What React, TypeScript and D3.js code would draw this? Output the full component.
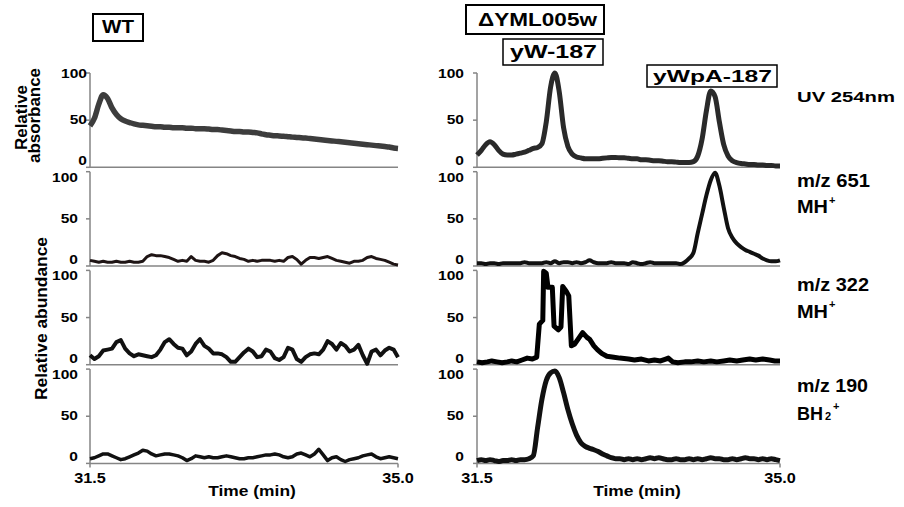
import * as d3 from "d3";

// time grid (min), 0.05 min steps from 31.5 to 35.0
const timeMin = d3.range(71).map((i) => 31.5 + i * 0.05);

// WT column
const wtUv = [
  44, 52, 67, 77, 73, 63, 56, 51.5, 49, 47.5,
  46, 45, 44.5, 44, 43.5, 43, 43, 42.5, 42.5, 42,
  42, 42, 41.5, 41.5, 41, 41, 41, 40.5, 40, 40,
  39.5, 39, 38.5, 38, 38, 37.5, 37.5, 37, 36.5, 35.5,
  34.5, 34, 33.5, 33.3, 33, 32.5, 32, 31.7, 31.3, 31,
  30.5, 30, 29.5, 29, 28.5, 28, 27.5, 27, 26.5, 26,
  25.5, 25, 24.5, 24, 23.5, 23, 22.5, 22, 21.5, 20.5,
  20,
];
const wtMz651 = [
  6, 5, 4, 5, 4, 4, 5, 4, 4, 5,
  4, 4, 5, 10, 12, 11, 11, 10, 9, 7,
  5, 6, 5, 10, 6, 5, 5, 4, 6, 11,
  14, 13, 11, 10, 8, 7, 5, 6, 5, 6,
  6, 6, 5, 6, 5, 9, 10, 7, 2, 6,
  9, 9, 8, 9, 10, 8, 6, 5, 4, 3,
  5, 5, 6, 9, 10, 8, 7, 6, 4, 2,
  1,
];
const wtMz322 = [
  10, 6, 9, 15, 16, 17, 24, 26, 17, 12,
  9, 11, 10, 9, 8, 10, 16, 24, 27, 22,
  18, 17, 10, 14, 22, 27, 20, 17, 12, 12,
  11, 8, 3, 3, 8, 13, 17, 14, 8, 9,
  16, 14, 7, 5, 8, 18, 16, 6, 3, 8,
  11, 12, 11, 16, 25, 22, 16, 23, 20, 14,
  16, 21, 10, 1, 14, 16, 10, 15, 18, 16,
  8,
];
const wtMz190 = [
  5, 6, 8, 10, 10, 8, 6, 4, 5, 7,
  9, 11, 14, 13, 10, 8, 9, 10, 10, 9,
  8, 6, 3, 5, 8, 7, 6, 7, 6, 6,
  7, 8, 7, 6, 5, 5, 6, 6, 7, 8,
  9, 9, 10, 9, 7, 6, 7, 10, 11, 9,
  7, 10, 15, 9, 3, 6, 7, 4, 2, 4,
  5, 6, 8, 9, 10, 7, 5, 6, 7, 6,
  5,
];

// ΔYML005w column
const ymlUv = [
  13, 18, 24, 27, 24, 18, 14, 13, 13, 14,
  15, 16, 18, 20, 21, 25, 48, 85, 100, 80,
  42, 22, 14, 11, 10, 9, 9, 9, 9, 9.5,
  10, 10.5, 10.5, 10, 10, 9.5, 9, 9, 8, 8,
  7.5, 7, 7, 6.5, 6, 6, 5.5, 5, 5, 5,
  6, 12, 30, 60, 81, 75, 48, 24, 12, 7,
  5, 4, 3.5, 3, 3, 2.5, 2.5, 2, 2, 1.5,
  1.5,
];
const ymlMz651 = [
  3, 3, 2, 3, 3, 2, 3, 3, 3, 3,
  3, 4, 3, 3, 3, 3, 4, 3, 5, 3,
  4, 4, 3, 4, 3, 4, 6, 4, 3, 3,
  3, 4, 3, 3, 3, 2, 4, 3, 2, 3,
  4, 3, 3, 3, 3, 3, 3, 2, 4, 8,
  14, 35, 55, 75, 91, 99, 85, 62, 40, 30,
  24, 20, 17, 15, 13, 11, 8, 6, 5, 5,
  6,
];
const ymlMz322Time = [
  31.5, 31.56, 31.62, 31.67, 31.73, 31.79, 31.85, 31.9, 31.96, 32.02,
  32.08, 32.14, 32.19, 32.22, 32.26, 32.27, 32.3, 32.32, 32.37, 32.39,
  32.44, 32.47, 32.49, 32.53, 32.56, 32.59, 32.63, 32.69, 32.72, 32.77,
  32.8, 32.85, 32.89, 32.94, 33.0, 33.08, 33.15, 33.25, 33.32, 33.4,
  33.48, 33.55, 33.62, 33.68, 33.71, 33.76, 33.82, 33.9, 33.97, 34.05,
  34.12, 34.2, 34.27, 34.35, 34.42, 34.5, 34.57, 34.65, 34.72, 34.8,
  34.88, 34.94, 35.0,
];
const ymlMz322 = [
  3, 2, 3, 4, 3, 2, 3, 4, 3, 5,
  7, 6, 8, 43, 47, 99, 97, 82, 82, 41,
  37, 40, 83, 78, 73, 20, 22, 30, 34, 29,
  27, 20, 16, 12, 9, 8, 7, 6, 5, 6,
  4, 5, 4, 6, 7, 3, 2, 3, 3, 4,
  3, 4, 3, 4, 5, 4, 5, 6, 5, 6,
  5, 4, 4,
];
const ymlMz190 = [
  3, 4, 3, 4, 3, 2, 3, 3, 4, 3,
  4, 4, 5, 8, 38, 68, 88, 96, 98, 91,
  75, 57, 42, 30, 22, 18, 16, 14.5, 12.5, 10,
  8, 6, 5, 5, 4, 5, 4, 5, 4, 5,
  6, 5, 6, 5, 4, 4, 5, 4, 4, 5,
  4, 5, 4, 5, 6, 5, 5, 4, 4, 5,
  4, 5, 6, 5, 5, 4, 5, 4, 5, 4,
  3,
];

const yTicks = [0, 50, 100];
const xTickLabels = ["31.5", "35.0"];
const xDomain: [number, number] = [31.5, 35.0];

const FONT = "'Liberation Sans', Arial, sans-serif";
const AXIS = "#858585";
const PANEL_TOP = 73;
const PANEL_STEP = 98.7;
const PANEL_H = 94.3;

type Trace = { t: number[]; v: number[]; color: string; width: number; curve: d3.CurveFactory };

const columns = [
  {
    x0: 90,
    x1: 398,
    labelRight: [87, 78, 78, 78],
    title: "Time (min)",
    titleX: 252,
    traces: [
      { t: timeMin, v: wtUv, color: "#3d3d3d", width: 5.5, curve: d3.curveMonotoneX },
      { t: timeMin, v: wtMz651, color: "#1e1414", width: 3, curve: d3.curveLinear },
      { t: timeMin, v: wtMz322, color: "#111", width: 4, curve: d3.curveLinear },
      { t: timeMin, v: wtMz190, color: "#111", width: 3.5, curve: d3.curveLinear },
    ] as Trace[],
  },
  {
    x0: 477,
    x1: 780,
    labelRight: [464, 464, 464, 464],
    title: "Time (min)",
    titleX: 637,
    traces: [
      { t: timeMin, v: ymlUv, color: "#2a2a2a", width: 5, curve: d3.curveMonotoneX },
      { t: timeMin, v: ymlMz651, color: "#111", width: 4, curve: d3.curveMonotoneX },
      { t: ymlMz322Time, v: ymlMz322, color: "#000", width: 5, curve: d3.curveLinear },
      { t: timeMin, v: ymlMz190, color: "#111", width: 5, curve: d3.curveMonotoneX },
    ] as Trace[],
  },
];

// baseline offsets of the y tick labels (they sit slightly inside each panel)
const tickDy = (v: number, k: number) => (v === 100 ? (k === 0 ? 5 : 10) : v === 50 ? 4 : -2);

function Txt({ x, y, size, len, anchor = "start", children }: any) {
  return (
    <text
      x={x}
      y={y}
      fontSize={size}
      fontWeight="bold"
      fontFamily={FONT}
      textAnchor={anchor}
      textLength={len}
      lengthAdjust="spacingAndGlyphs"
    >
      {children}
    </text>
  );
}

function Stretched({ x, y, size, sx = 1.2, anchor = "start", children }: any) {
  return (
    <text
      transform={`translate(${x},${y}) scale(${sx},1)`}
      fontSize={size}
      fontWeight="bold"
      fontFamily={FONT}
      textAnchor={anchor}
    >
      {children}
    </text>
  );
}

function Column({ col }: { col: (typeof columns)[number] }) {
  const x = d3.scaleLinear().domain(xDomain).range([col.x0, col.x1]);
  return (
    <g>
      {col.traces.map((tr, k) => {
        const top = PANEL_TOP + k * PANEL_STEP;
        const y = d3.scaleLinear().domain([0, 100]).range([top + PANEL_H, top]);
        const line = d3
          .line<number>()
          .x((_, i) => x(tr.t[i]))
          .y((d) => y(d))
          .curve(tr.curve);
        return (
          <g key={k}>
            <line x1={col.x0} x2={col.x0} y1={y(100)} y2={y(0)} stroke={AXIS} strokeWidth={1.5} />
            <line x1={col.x0} x2={col.x1} y1={y(0)} y2={y(0)} stroke={AXIS} strokeWidth={1.5} />
            {yTicks.map((v) => (
              <g key={v}>
                <line x1={col.x0 - 4} x2={col.x0} y1={y(v)} y2={y(v)} stroke={AXIS} strokeWidth={1.5} />
                <Stretched x={col.labelRight[k]} y={y(v) + tickDy(v, k)} size={13.5} sx={1.15} anchor="end">
                  {v}
                </Stretched>
              </g>
            ))}
            <path d={line(tr.v) || ""} fill="none" stroke={tr.color} strokeWidth={tr.width} strokeLinejoin="round" />
            {k === 3 &&
              xDomain.map((t, i) => (
                <g key={t}>
                  <line x1={x(t)} x2={x(t)} y1={y(0)} y2={y(0) + 4} stroke={AXIS} strokeWidth={1.5} />
                  <Stretched x={x(t)} y={483} size={14.5} sx={1.12} anchor="middle">
                    {xTickLabels[i]}
                  </Stretched>
                </g>
              ))}
          </g>
        );
      })}
      <Stretched x={col.titleX} y={496} size={14.5} anchor="middle">
        {col.title}
      </Stretched>
    </g>
  );
}

export default function App() {
  return (
    <svg
      width={904}
      height={507}
      style={{ position: "absolute", left: 0, top: 0, display: "block", background: "#fff" }}
    >
      <rect x={0} y={0} width={904} height={507} fill="#fff" />
      {columns.map((c, i) => (
        <Column key={i} col={c} />
      ))}

      {/* y titles */}
      <g transform="translate(27,117.5) rotate(-90)">
        <Txt x={0} y={0} size={17} len={65} anchor="middle">Relative</Txt>
      </g>
      <g transform="translate(40,115.5) rotate(-90)">
        <Txt x={0} y={0} size={17} len={95} anchor="middle">absorbance</Txt>
      </g>
      <g transform="translate(47,318.5) rotate(-90)">
        <Txt x={0} y={0} size={17} len={163} anchor="middle">Relative abundance</Txt>
      </g>

      {/* boxed titles */}
      <rect x={93} y={14} width={50} height={27} fill="#fff" stroke="#000" strokeWidth={2} />
      <Txt x={118} y={33} size={18} len={32} anchor="middle">WT</Txt>
      <rect x={466} y={5} width={138} height={29} fill="#fff" stroke="#000" strokeWidth={2} />
      <Txt x={537.5} y={25.5} size={18.5} len={119} anchor="middle">ΔYML005w</Txt>
      <rect x={503} y={39} width={100} height={26} fill="#fff" stroke="#000" strokeWidth={1.5} />
      <Txt x={553.5} y={58} size={18.5} len={87} anchor="middle">yW-187</Txt>
      <rect x={647} y={65} width={130} height={22} fill="#fff" stroke="#000" strokeWidth={1.5} />
      <Txt x={712.5} y={81.5} size={16.5} len={119} anchor="middle">yWpA-187</Txt>

      {/* channel labels */}
      <Txt x={797} y={101.7} size={15.5} len={98}>UV 254nm</Txt>
      <Txt x={797} y={187} size={17.5} len={73}>m/z 651</Txt>
      <Txt x={797} y={213} size={18} len={31}>MH</Txt>
      <Txt x={829} y={204} size={11}>+</Txt>
      <Txt x={797} y={291} size={17.5} len={72}>m/z 322</Txt>
      <Txt x={797} y={317.5} size={18} len={31}>MH</Txt>
      <Txt x={829} y={308} size={11}>+</Txt>
      <Txt x={797} y={391.7} size={17.5} len={71}>m/z 190</Txt>
      <Txt x={797} y={420} size={18} len={26}>BH</Txt>
      <Txt x={825} y={420} size={11}>2</Txt>
      <Txt x={833} y={410} size={11}>+</Txt>
    </svg>
  );
}
